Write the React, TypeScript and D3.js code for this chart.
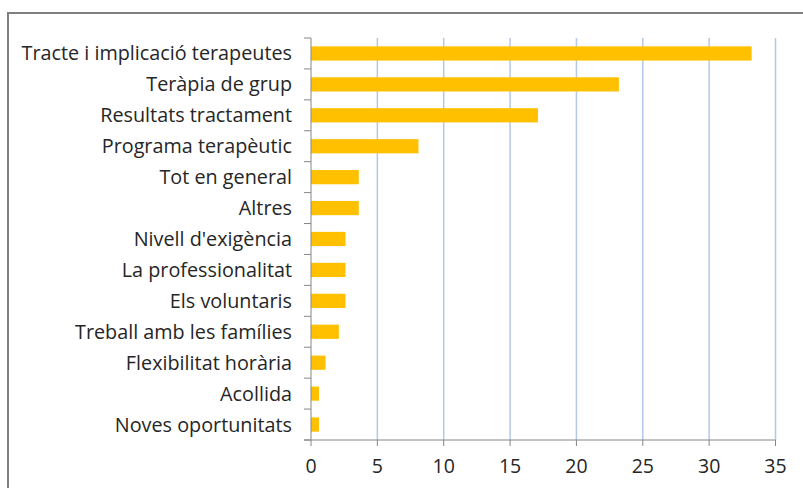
import React from "react";
import * as d3 from "d3";

const categories = [
  "Tracte i implicació terapeutes",
  "Teràpia de grup",
  "Resultats tractament",
  "Programa terapèutic",
  "Tot en general",
  "Altres",
  "Nivell d'exigència",
  "La professionalitat",
  "Els voluntaris",
  "Treball amb les famílies",
  "Flexibilitat horària",
  "Acollida",
  "Noves oportunitats",
];
const values = [33.2, 23.2, 17.1, 8.1, 3.6, 3.6, 2.6, 2.6, 2.6, 2.1, 1.1, 0.6, 0.6];
const xTicks = [0, 5, 10, 15, 20, 25, 30, 35];

const W = 803;
const H = 488;
const left = 311;
const right = 775.5;
const top = 38;
const bottom = 440;

export default function App() {
  const x = d3.scaleLinear().domain([0, 35]).range([left, right]);
  const y = d3.scaleBand().domain(categories).range([top, bottom]).paddingInner(0.54).paddingOuter(0.27);
  const band = (bottom - top) / categories.length;
  const font = "'Open Sans', sans-serif";
  return (
    <svg width={W} height={H} style={{ position: "absolute", left: 0, top: 0, background: "#fff" }}>
      <line x1={8} x2={W} y1={13} y2={13} stroke="#808080" strokeWidth={2} />
      <line x1={8} x2={8} y1={12} y2={H} stroke="#808080" strokeWidth={2} />
      {xTicks.slice(1).map((t) => (
        <line key={t} x1={x(t)} x2={x(t)} y1={top} y2={bottom} stroke="#B4C7E7" strokeWidth={1.5} />
      ))}
      {categories.map((c, i) => (
        <rect key={c} x={x(0)} y={y(c)!} width={x(values[i]) - x(0)} height={y.bandwidth()} fill="#FFC000" />
      ))}
      <line x1={left} x2={left} y1={top} y2={bottom} stroke="#868686" strokeWidth={1} />
      {d3.range(categories.length + 1).map((i) => (
        <line key={i} x1={left - 7} x2={left} y1={top + i * band} y2={top + i * band} stroke="#868686" strokeWidth={1} />
      ))}
      <line x1={left - 7} x2={right} y1={bottom} y2={bottom} stroke="#868686" strokeWidth={1} />
      {xTicks.map((t) => (
        <g key={t}>
          <line x1={x(t)} x2={x(t)} y1={bottom} y2={bottom + 6} stroke="#868686" strokeWidth={1} />
          <text x={x(t)} y={bottom + 33} textAnchor="middle" fontFamily={font} fontSize={19.5} fill="#262626">
            {t}
          </text>
        </g>
      ))}
      {categories.map((c) => (
        <text key={c} x={292} y={y(c)! + y.bandwidth() / 2 + 7} textAnchor="end" fontFamily={font} fontSize={19.8} fill="#262626">
          {c}
        </text>
      ))}
    </svg>
  );
}
